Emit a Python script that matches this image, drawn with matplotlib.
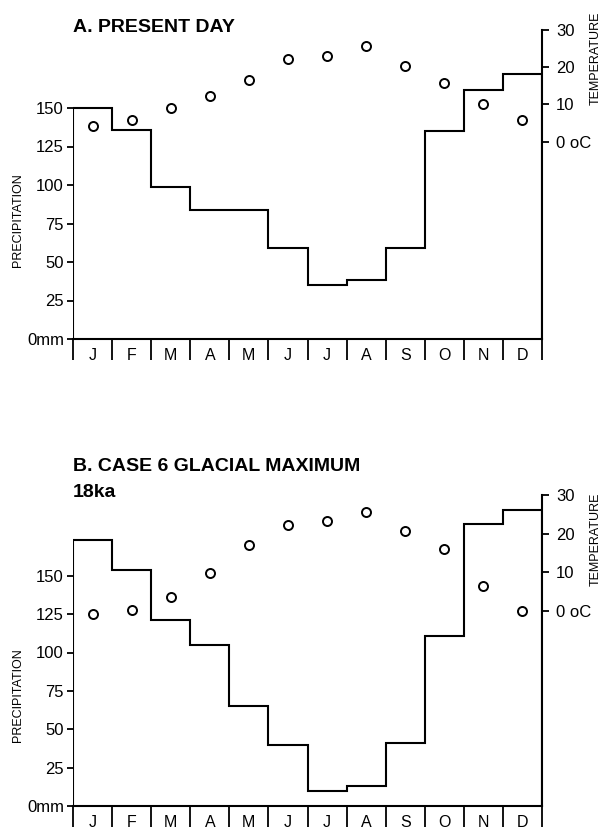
import matplotlib
matplotlib.use('Agg')
import matplotlib.pyplot as plt
import numpy as np

plt.rcParams['font.family'] = ['Liberation Sans', 'DejaVu Sans']

months = ['J', 'F', 'M', 'A', 'M', 'J', 'J', 'A', 'S', 'O', 'N', 'D']
precip_present = [150, 136, 99, 84, 84, 59, 35, 38, 59, 135, 162, 172]
temp_present = [4.3, 5.9, 9.0, 12.2, 16.7, 22.2, 23.1, 25.7, 20.2, 15.7, 10.0, 5.9]
precip_glacial = [173, 154, 121, 105, 65, 40, 9.5, 13, 41, 111, 184, 193]
temp_glacial = [-0.9, 0.1, 3.6, 9.9, 17.1, 22.2, 23.2, 25.6, 20.6, 16.0, 6.5, 0.0]
precip_ticks = [0, 25, 50, 75, 100, 125, 150]
precip_tick_labels = ['0mm', '25', '50', '75', '100', '125', '150']
temp_ticks = [0, 10, 20, 30]
temp_tick_labels = ['0 oC', '10', '20', '30']

W, H = 602, 832
fig = plt.figure(figsize=(W / 100, H / 100), dpi=100)


def panel(left, right, top, bottom, precip, temp, p_top, t_lim):
    ax = fig.add_axes([left / W, 1 - bottom / H, (right - left) / W, (bottom - top) / H])
    ax.set_xlim(0, 12)
    ax.set_ylim(0, p_top)
    edges = np.arange(len(months) + 1)
    ax.stairs(precip, edges, baseline=0, color='black', linewidth=1.5)
    for s in ['left', 'top', 'right']:
        ax.spines[s].set_visible(False)
    ax.spines['bottom'].set_linewidth(1.5)
    ax.set_yticks(precip_ticks)
    ax.set_yticklabels(precip_tick_labels)
    ax.tick_params(axis='y', length=4.5, width=1.3, pad=2, labelsize=12)
    ax.set_xticks(edges)
    ax.set_xticklabels([''] * len(edges))
    ax.tick_params(axis='x', which='major', length=15, width=1.3, direction='out')
    ax.set_xticks(edges[:-1] + 0.5, minor=True)
    ax.set_xticklabels(months, minor=True)
    ax.tick_params(axis='x', which='minor', length=0, pad=6.5, labelsize=11.5)

    tx = ax.twinx()
    tx.set_ylim(*t_lim)
    for s in ['left', 'top', 'bottom']:
        tx.spines[s].set_visible(False)
    tx.spines['right'].set_linewidth(1.5)
    tx.set_yticks(temp_ticks)
    tx.set_yticklabels(temp_tick_labels)
    tx.tick_params(axis='y', length=5, width=1.3, pad=5, labelsize=12)
    tx.plot(edges[:-1] + 0.5, temp, linestyle='none', marker='o', markersize=6.5,
            markerfacecolor='none', markeredgecolor='black', markeredgewidth=1.4,
            clip_on=False)
    return ax, tx


panel(73, 542, 30, 339, precip_present, temp_present, 309 / 1.54, (-53.0, 30.0))
panel(73, 542, 495, 806, precip_glacial, temp_glacial, 311 / 1.535, (-50.6, 30.0))

fig.text(73 / W, 1 - 27 / H, 'A. PRESENT DAY', fontsize=14, fontweight='bold',
         ha='left', va='center')
fig.text(73 / W, 1 - 467 / H, 'B. CASE 6 GLACIAL MAXIMUM', fontsize=14, fontweight='bold',
         ha='left', va='center')
fig.text(73 / W, 1 - 493 / H, '18ka', fontsize=14, fontweight='bold',
         ha='left', va='center')

for yc in (220, 695):
    fig.text(18 / W, 1 - yc / H, 'PRECIPITATION', fontsize=9, rotation=90,
             ha='center', va='center')
for yc in (58, 539):
    fig.text(596 / W, 1 - yc / H, 'TEMPERATURE', fontsize=9, rotation=90,
             ha='center', va='center')

fig.savefig('out.png', dpi=100, facecolor='white')
